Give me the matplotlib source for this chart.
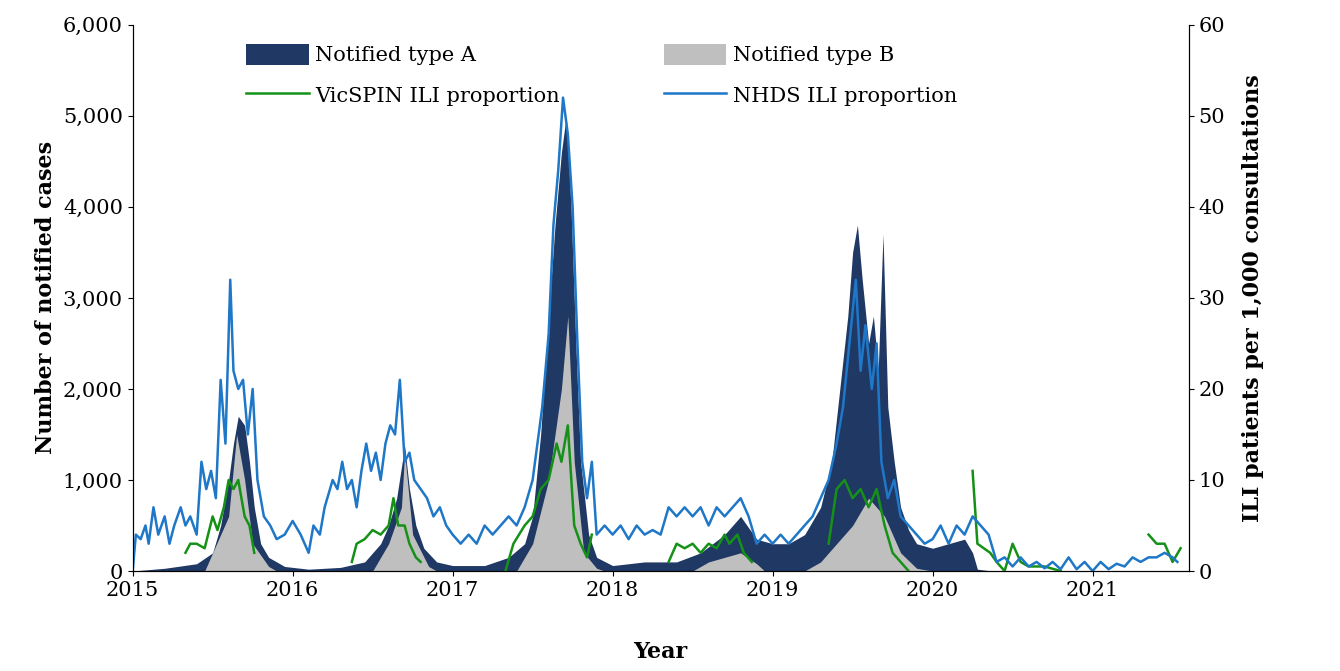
import numpy as np
import matplotlib
matplotlib.use("Agg")
import matplotlib.pyplot as plt

plt.rcParams['font.family'] = ['DejaVu Serif']

typeA_x = [2015.0,2015.2,2015.4,2015.5,2015.55,2015.6,2015.63,2015.66,2015.7,2015.73,2015.76,2015.8,2015.85,2015.95,2016.1,2016.3,2016.45,2016.55,2016.6,2016.65,2016.7,2016.73,2016.77,2016.82,2016.9,2017.0,2017.2,2017.35,2017.45,2017.5,2017.55,2017.6,2017.64,2017.68,2017.71,2017.74,2017.77,2017.8,2017.85,2017.9,2018.0,2018.2,2018.4,2018.55,2018.7,2018.8,2018.9,2019.0,2019.1,2019.2,2019.3,2019.37,2019.42,2019.47,2019.5,2019.53,2019.56,2019.6,2019.63,2019.66,2019.69,2019.72,2019.76,2019.8,2019.85,2019.9,2020.0,2020.1,2020.2,2020.25,2020.28,2020.35,2021.55]
typeA_y = [0,30,80,200,500,1000,1400,1700,1600,1200,700,300,150,50,20,40,100,300,500,800,1370,900,500,250,100,60,60,150,300,600,1500,2800,3800,4600,5000,4000,2500,1200,400,150,60,100,100,200,400,600,350,300,300,400,700,1200,2000,2800,3500,3800,3200,2500,2800,2200,3700,1800,1200,700,450,300,250,300,350,200,20,5,5]

typeB_x = [2015.0,2015.45,2015.5,2015.6,2015.65,2015.7,2015.75,2015.85,2015.9,2016.5,2016.6,2016.68,2016.7,2016.75,2016.85,2016.9,2017.4,2017.5,2017.6,2017.68,2017.72,2017.76,2017.82,2017.9,2017.95,2018.5,2018.6,2018.8,2018.9,2018.95,2019.2,2019.3,2019.5,2019.6,2019.7,2019.8,2019.9,2020.0,2021.55]
typeB_y = [0,0,200,600,1500,1000,300,50,0,0,300,700,1300,400,50,0,0,300,1000,2000,2800,1200,200,30,0,0,100,200,80,0,0,100,500,800,600,200,30,0,0]

nhds_x = [2015.0,2015.02,2015.05,2015.08,2015.1,2015.13,2015.16,2015.2,2015.23,2015.26,2015.3,2015.33,2015.36,2015.4,2015.43,2015.46,2015.49,2015.52,2015.55,2015.58,2015.61,2015.63,2015.66,2015.69,2015.72,2015.75,2015.78,2015.82,2015.86,2015.9,2015.95,2016.0,2016.05,2016.1,2016.13,2016.17,2016.2,2016.25,2016.28,2016.31,2016.34,2016.37,2016.4,2016.43,2016.46,2016.49,2016.52,2016.55,2016.58,2016.61,2016.64,2016.67,2016.7,2016.73,2016.76,2016.8,2016.84,2016.88,2016.92,2016.96,2017.0,2017.05,2017.1,2017.15,2017.2,2017.25,2017.3,2017.35,2017.4,2017.45,2017.5,2017.53,2017.56,2017.6,2017.63,2017.66,2017.69,2017.72,2017.75,2017.78,2017.81,2017.84,2017.87,2017.9,2017.95,2018.0,2018.05,2018.1,2018.15,2018.2,2018.25,2018.3,2018.35,2018.4,2018.45,2018.5,2018.55,2018.6,2018.65,2018.7,2018.75,2018.8,2018.85,2018.9,2018.95,2019.0,2019.05,2019.1,2019.15,2019.2,2019.25,2019.3,2019.35,2019.4,2019.44,2019.48,2019.52,2019.55,2019.58,2019.62,2019.65,2019.68,2019.72,2019.76,2019.8,2019.85,2019.9,2019.95,2020.0,2020.05,2020.1,2020.15,2020.2,2020.25,2020.3,2020.35,2020.4,2020.45,2020.5,2020.55,2020.6,2020.65,2020.7,2020.75,2020.8,2020.85,2020.9,2020.95,2021.0,2021.05,2021.1,2021.15,2021.2,2021.25,2021.3,2021.35,2021.4,2021.45,2021.5,2021.53]
nhds_y = [0,4,3.5,5,3,7,4,6,3,5,7,5,6,4,12,9,11,8,21,14,32,22,20,21,15,20,10,6,5,3.5,4,5.5,4,2,5,4,7,10,9,12,9,10,7,11,14,11,13,10,14,16,15,21,12,13,10,9,8,6,7,5,4,3,4,3,5,4,5,6,5,7,10,14,18,26,38,44,52,48,40,25,12,8,12,4,5,4,5,3.5,5,4,4.5,4,7,6,7,6,7,5,7,6,7,8,6,3,4,3,4,3,4,5,6,8,10,14,18,25,32,22,27,20,25,12,8,10,6,5,4,3,3.5,5,3,5,4,6,5,4,1,1.5,0.5,1.5,0.5,1,0.3,1,0.2,1.5,0.2,1,0,1,0.2,0.8,0.5,1.5,1,1.5,1.5,2,1.5,1]

vic_x = [2015.33,2015.36,2015.4,2015.45,2015.5,2015.53,2015.57,2015.6,2015.63,2015.66,2015.7,2015.73,2015.76,2015.77,
         2016.37,2016.4,2016.45,2016.5,2016.55,2016.6,2016.63,2016.66,2016.7,2016.73,2016.77,2016.8,2016.81,
         2017.33,2017.38,2017.45,2017.5,2017.55,2017.6,2017.65,2017.68,2017.72,2017.76,2017.8,2017.84,2017.87,2017.88,
         2018.35,2018.4,2018.45,2018.5,2018.55,2018.6,2018.65,2018.7,2018.73,2018.78,2018.82,2018.87,2018.88,
         2019.35,2019.4,2019.45,2019.5,2019.55,2019.6,2019.65,2019.7,2019.75,2019.8,2019.85,2019.86,
         2020.25,2020.28,2020.32,2020.36,2020.4,2020.45,2020.5,2020.55,2020.6,2020.7,2020.8,2020.81,
         2021.35,2021.4,2021.45,2021.5,2021.55]
vic_y = [2,3,3,2.5,6,4.5,7,10,9,10,6,5,2,np.nan,
         1,3,3.5,4.5,4,5,8,5,5,3,1.5,1,np.nan,
         0,3,5,6,9,10,14,12,16,5,3,1.5,4,np.nan,
         1,3,2.5,3,2,3,2.5,4,3,4,2,1,np.nan,
         3,9,10,8,9,7,9,5,2,1,0,np.nan,
         11,3,2.5,2,1,0,3,1,0.5,0.5,0,np.nan,
         4,3,3,1,2.5]

fig, ax = plt.subplots(figsize=(13.4, 6.71), dpi=100)
fig.subplots_adjust(left=0.099, right=0.887, top=0.963, bottom=0.149)
ax.fill_between(typeA_x, typeA_y, color='#1f3864', label='Notified type A', lw=0)
ax.fill_between(typeB_x, typeB_y, color='#bfbfbf', label='Notified type B', lw=0)
ax.set_xlim(2015, 2021.6)
ax.set_ylim(0, 6000)
ax.set_yticks(range(0, 6001, 1000))
ax.set_yticklabels([f"{v:,}" for v in range(0, 6001, 1000)])
ax.set_xticks(range(2015, 2022))
ax.tick_params(labelsize=15)
ax.set_ylabel('Number of notified cases', fontsize=16, fontweight='bold')
ax.set_xlabel('Year', fontsize=16, fontweight='bold', labelpad=30)
ax.spines['top'].set_visible(False)

ax2 = ax.twinx()
ax2.plot(vic_x, vic_y, color='#169118', lw=1.8, label='VicSPIN ILI proportion')
ax2.plot(nhds_x, nhds_y, color='#1f77c8', lw=1.8, label='NHDS ILI proportion')
ax2.set_ylim(0, 60)
ax2.set_yticks(range(0, 61, 10))
ax2.tick_params(labelsize=15)
ax2.set_ylabel('ILI patients per 1,000 consultations', fontsize=16, fontweight='bold', labelpad=12)
ax2.spines['top'].set_visible(False)

h1, l1 = ax.get_legend_handles_labels()
h2, l2 = ax2.get_legend_handles_labels()
hs = [h1[0], h2[0], h1[1], h2[1]]
ls = [l1[0], l2[0], l1[1], l2[1]]
ax2.legend(hs, ls, ncol=2, frameon=False, loc='upper left',
           bbox_to_anchor=(0.09, 1.0), fontsize=15, columnspacing=5.0,
           handlelength=3.0, handleheight=1.2, labelspacing=0.9, handletextpad=0.3)
fig.savefig('out.png')
